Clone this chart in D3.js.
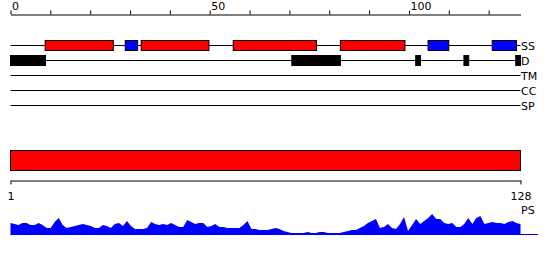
<!DOCTYPE html>
<html>
<head>
<meta charset="utf-8">
<script src="https://cdn.jsdelivr.net/npm/d3@7"></script>
<style>
  body { margin: 0; background: #fff; }
  svg { display: block; font-family: "DejaVu Sans", sans-serif; font-size: 11px; }
</style>
</head>
<body>
<div id="chart"></div>
<script>
// Feature tracks (positions along the sequence)
const trackNames = ['SS', 'D', 'TM', 'CC', 'SP'];
const helixRanges = [[8.7, 25.8], [32.8, 49.8], [55.9, 76.8], [82.8, 99]];
const strandRanges = [[28.8, 31.9], [104.8, 110], [120.9, 127]];
const disorderRanges = [[0, 8.8], [70.6, 82.8], [101.7, 102.9], [113.8, 115], [126.8, 128]];
const topTicks = [0, 10, 20, 30, 40, 50, 60, 70, 80, 90, 100, 110, 120];
const topLabels = [0, 50, 100];
const seqEnds = [1, 128];

// PS profile, one value per residue 1..128
const psValues = [
    12, 11, 10, 12, 12, 10, 10, 12, 10, 7,
    7, 13, 17, 10, 7, 8, 9, 10, 11, 10,
    9, 7, 7, 10, 9, 7, 11, 12, 9, 14,
    9, 6, 6, 6, 7, 13, 11, 10, 11, 10,
    12, 10, 8, 8, 15, 13, 11, 12, 12, 8,
    9, 11, 8, 8, 7, 7, 7, 7, 10, 14,
    6, 6, 5, 5, 5, 6, 7, 6, 4, 3,
    2, 2, 2, 2, 3, 2, 2, 3, 3, 2,
    2, 2, 2, 3, 4, 5, 5, 7, 9, 12,
    14, 16, 7, 8, 11, 7, 6, 11, 18, 4,
    10, 16, 11, 14, 17, 21, 16, 16, 12, 11,
    12, 8, 8, 11, 17, 11, 17, 19, 11, 12,
    13, 12, 12, 11, 13, 14, 12, 11
];

const width = 550, height = 260;

const svg = d3.select("#chart")
    .append("svg")
    .attr("width", width)
    .attr("height", height);

// position scale for the top tracks
const x = d3.scaleLinear()
    .domain([0, 128])
    .range([10.5, 520.5]);

// residue scale for the bottom part
const xRes = d3.scaleLinear()
    .domain(seqEnds)
    .range([10.5, 520.5]);

// top axis
const topAxis = svg.append("g")
    .attr("transform", "translate(0,14.5)")
    .call(d3.axisTop(x)
        .tickValues(topTicks)
        .tickSize(4)
        .tickSizeOuter(0)
        .tickPadding(1)
        .tickFormat(d => topLabels.includes(d) ? d : ""));
topAxis.selectAll("text")
    .attr("text-anchor", "start")
    .attr("x", 1)
    .attr("fill", "#000")
    .style("font-size", "11px")
    .style("font-family", "DejaVu Sans");
topAxis.selectAll("path, line").attr("stroke", "#000");

// track lines + labels
const trackY = d3.scalePoint()
    .domain(trackNames)
    .range([45.5, 105.5]);

svg.selectAll("line.track")
    .data(trackNames)
    .enter()
    .append("line")
    .attr("class", "track")
    .attr("x1", x(0))
    .attr("x2", x(128))
    .attr("y1", d => trackY(d))
    .attr("y2", d => trackY(d))
    .attr("stroke", "#000");

svg.selectAll("text.track")
    .data(trackNames)
    .enter()
    .append("text")
    .attr("class", "track")
    .attr("x", x(128) + 0.5)
    .attr("y", d => trackY(d) + 4)
    .text(d => d);

// secondary structure boxes
svg.selectAll("rect.helix")
    .data(helixRanges)
    .enter()
    .append("rect")
    .attr("x", d => x(d[0]))
    .attr("y", trackY('SS') - 5)
    .attr("width", d => x(d[1]) - x(d[0]))
    .attr("height", 10)
    .attr("fill", "#ff0000")
    .attr("stroke", "#000");

svg.selectAll("rect.strand")
    .data(strandRanges)
    .enter()
    .append("rect")
    .attr("x", d => x(d[0]))
    .attr("y", trackY('SS') - 5)
    .attr("width", d => x(d[1]) - x(d[0]))
    .attr("height", 10)
    .attr("fill", "#0000ff")
    .attr("stroke", "#000");

// disorder boxes
svg.selectAll("rect.dis")
    .data(disorderRanges)
    .enter()
    .append("rect")
    .attr("x", d => x(d[0]))
    .attr("y", trackY('D') - 5)
    .attr("width", d => x(d[1]) - x(d[0]))
    .attr("height", 10)
    .attr("fill", "#000")
    .attr("stroke", "#000");

// full-length domain bar
svg.append("rect")
    .attr("x", xRes(seqEnds[0]))
    .attr("y", 150.5)
    .attr("width", xRes(seqEnds[1]) - xRes(seqEnds[0]))
    .attr("height", 20)
    .attr("fill", "#ff0000")
    .attr("stroke", "#000");

// bottom axis
const botAxis = svg.append("g")
    .attr("transform", "translate(0,180.5)")
    .call(d3.axisBottom(xRes)
        .tickValues(seqEnds)
        .tickSize(4)
        .tickSizeOuter(0)
        .tickPadding(8));
botAxis.selectAll("text")
    .attr("fill", "#000")
    .style("font-size", "11px")
    .style("font-family", "DejaVu Sans");
botAxis.selectAll("path, line").attr("stroke", "#000");

// PS profile
const yPs = d3.scaleLinear()
    .domain([0, 22])
    .range([235, 213]);

const area = d3.area()
    .x((d, i) => xRes(i + 1))
    .y0(yPs(0))
    .y1(d => yPs(d));

svg.append("path")
    .datum(psValues)
    .attr("d", area)
    .attr("fill", "#0000ff");

svg.append("line")
    .attr("x1", xRes(seqEnds[0]))
    .attr("x2", 538)
    .attr("y1", yPs(0) - 0.5)
    .attr("y2", yPs(0) - 0.5)
    .attr("stroke", "#0000ff");

svg.append("text")
    .attr("x", 521)
    .attr("y", 214)
    .text("PS");
</script>
</body>
</html>
